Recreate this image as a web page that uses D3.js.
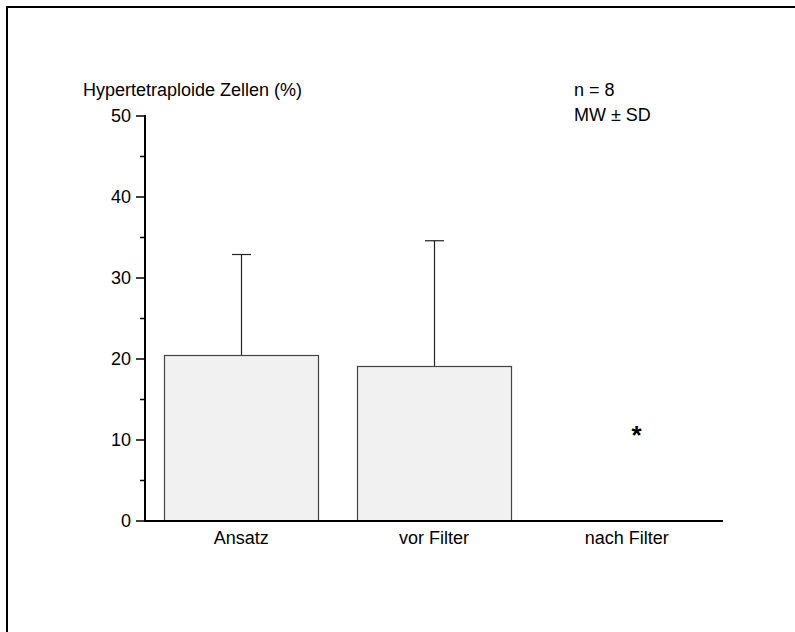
<!DOCTYPE html>
<html>
<head>
<meta charset="utf-8">
<script src="https://cdn.jsdelivr.net/npm/d3@7"></script>
<style>
    body { margin: 0; background: #fff; }
    svg text { font-family: "Liberation Sans", Arial, sans-serif; fill: #000; }
</style>
</head>
<body>
<div id="chart"></div>
<script>
// Hypertetraploide Zellen - Balkendiagramm MW ± SD

// Data
const categories = ['Ansatz', 'vor Filter', 'nach Filter'];
const means = [20.5, 19.15, 0];
const sds = [12.4, 15.45, 0];
const yTicks = [0, 10, 20, 30, 40, 50];
const yMinorTicks = [5, 15, 25, 35, 45];
const annotations = [{ category: 'nach Filter', value: 11, label: '*' }];

const width = 795, height = 632;
const margin = { top: 116, right: 72, bottom: 111, left: 145 };

const svg = d3.select('#chart').append('svg')
    .attr('width', width)
    .attr('height', height);

// Frame (only left and top edges visible)
svg.append('line').attr('x1', 7).attr('x2', width).attr('y1', 7).attr('y2', 7)
    .attr('stroke', '#000').attr('stroke-width', 2);
svg.append('line').attr('x1', 7).attr('x2', 7).attr('y1', 6).attr('y2', height)
    .attr('stroke', '#000').attr('stroke-width', 2);

const x = d3.scaleBand()
    .domain(categories)
    .range([margin.left, width - margin.right])
    .paddingInner(0.2)
    .paddingOuter(0.1);

const y = d3.scaleLinear()
    .domain([0, 50])
    .range([height - margin.bottom, margin.top]);

// Error bars (upper only)
const capW = 19;
const err = svg.append('g').attr('class', 'errors');
categories.forEach((c, i) => {
    if (sds[i] <= 0) return;
    const cx = Math.round(x(c) + x.bandwidth() / 2) + 0.5;
    err.append('line')
        .attr('x1', cx).attr('x2', cx)
        .attr('y1', y(means[i])).attr('y2', y(means[i] + sds[i]))
        .attr('stroke', '#222').attr('stroke-width', 1.2);
    err.append('line')
        .attr('x1', cx - capW / 2).attr('x2', cx + capW / 2)
        .attr('y1', y(means[i] + sds[i])).attr('y2', y(means[i] + sds[i]))
        .attr('stroke', '#222').attr('stroke-width', 1.2);
});

// Bars
svg.append('g').selectAll('rect')
    .data(categories.map((c, i) => ({ c, v: means[i] })).filter(d => d.v > 0))
    .enter()
    .append('rect')
    .attr('x', d => Math.round(x(d.c)) + 0.5)
    .attr('y', d => Math.round(y(d.v)) + 0.5)
    .attr('width', Math.round(x.bandwidth()))
    .attr('height', d => y(0) - Math.round(y(d.v)) - 0.5)
    .attr('fill', '#f1f1f1')
    .attr('stroke', '#444')
    .attr('stroke-width', 1.2);

// Y axis
const axisX = margin.left;
svg.append('line')
    .attr('x1', axisX).attr('x2', axisX)
    .attr('y1', y(50) - 1).attr('y2', y(0) + 1)
    .attr('stroke', '#000').attr('stroke-width', 2);

svg.append('g').selectAll('line.major')
    .data(yTicks).enter().append('line')
    .attr('x1', axisX - 9).attr('x2', axisX)
    .attr('y1', d => y(d)).attr('y2', d => y(d))
    .attr('stroke', '#000').attr('stroke-width', 1.5);

svg.append('g').selectAll('line.minor')
    .data(yMinorTicks).enter().append('line')
    .attr('x1', axisX - 5).attr('x2', axisX)
    .attr('y1', d => y(d)).attr('y2', d => y(d))
    .attr('stroke', '#000').attr('stroke-width', 1.5);

svg.append('g').selectAll('text')
    .data(yTicks).enter().append('text')
    .attr('x', axisX - 14)
    .attr('y', d => y(d))
    .attr('dy', '0.35em')
    .attr('text-anchor', 'end')
    .style('font-size', '18px')
    .text(d => d);

// X axis
svg.append('line')
    .attr('x1', axisX).attr('x2', width - margin.right)
    .attr('y1', y(0)).attr('y2', y(0))
    .attr('stroke', '#000').attr('stroke-width', 2);

svg.append('g').selectAll('text')
    .data(categories).enter().append('text')
    .attr('x', d => x(d) + x.bandwidth() / 2)
    .attr('y', y(0) + 23)
    .attr('text-anchor', 'middle')
    .style('font-size', '18px')
    .text(d => d);

// Significance marker
svg.append('g').selectAll('text')
    .data(annotations).enter().append('text')
    .attr('x', d => x(d.category) + x.bandwidth() / 2 + 10)
    .attr('y', d => y(d.value) + 12)
    .attr('text-anchor', 'middle')
    .style('font-size', '26px')
    .style('font-weight', 'bold')
    .text(d => d.label);

// Axis title and notes
svg.append('text')
    .attr('x', 83).attr('y', 96)
    .style('font-size', '18px')
    .text('Hypertetraploide Zellen (%)');

svg.append('text')
    .attr('x', 574).attr('y', 96)
    .style('font-size', '18px')
    .text('n = 8');

svg.append('text')
    .attr('x', 574).attr('y', 121)
    .style('font-size', '18px')
    .text('MW ± SD');
</script>
</body>
</html>
